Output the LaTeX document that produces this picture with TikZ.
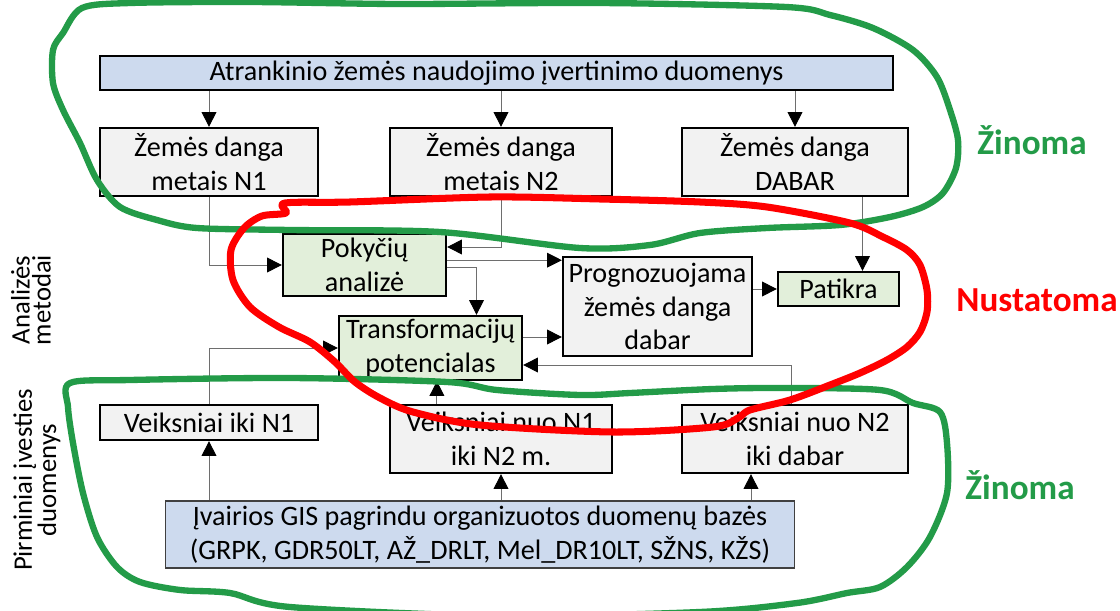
\documentclass[tikz,border=0pt]{standalone}
\usepackage{fontspec}
\setmainfont{Carlito}
\usepackage{tikz}
\usetikzlibrary{arrows.meta, positioning, calc}
\definecolor{fillblue}{RGB}{205,218,238}
\definecolor{fillgray}{RGB}{242,242,242}
\definecolor{fillgreen}{RGB}{226,239,218}
\definecolor{pengreen}{RGB}{35,155,72}
\definecolor{linegray}{RGB}{110,110,110}
\tikzset{
    box_gray/.style={rectangle, draw, line width=1.6pt, fill=fillgray, align=center, inner sep=0pt, font=\fontsize{20}{24}\selectfont},
    box_green/.style={rectangle, draw, line width=1.6pt, fill=fillgreen, align=center, inner sep=0pt, font=\fontsize{20}{24}\selectfont},
    box_blue/.style={rectangle, draw=black!75, line width=0.8pt, fill=fillblue, align=center, inner sep=0pt, font=\fontsize{20}{24}\selectfont},
    arrow/.style={-{Triangle[length=10.5pt, width=10.5pt, color=black]}, draw=linegray, line width=0.7pt},
    ring_green/.style={draw=pengreen, line width=4.5pt, line join=round},
    ring_red/.style={draw=red, line width=5pt, line join=round},
    label_green/.style={text=pengreen, font=\fontsize{25}{30}\selectfont\bfseries},
    label_red/.style={text=red, font=\fontsize{25}{30}\selectfont\bfseries},
    side_text/.style={rotate=90, align=center, font=\fontsize{19}{15}\selectfont}
}
\begin{document}
\begin{tikzpicture}[x=0.025cm, y=-0.025cm]
    \useasboundingbox (0,0) rectangle (1120,611);

    % known inputs (top)
    \node (atr) [box_blue, draw=black, line width=1.6pt, minimum width=19.825cm, minimum height=0.85cm] at (496.5,73) {Atrankinio žemės naudojimo įvertinimo duomenys};
    \node (zd1) [box_gray, minimum width=5.45cm, minimum height=1.7cm] at (209,162) {Žemės danga\\metais N1};
    \node (zd2) [box_gray, minimum width=5.55cm, minimum height=1.7cm] at (501,162) {Žemės danga\\metais N2};
    \node (zd3) [box_gray, minimum width=5.65cm, minimum height=1.7cm] at (795,162) {Žemės danga\\DABAR};

    % methods
    \node (pok) [box_green, minimum width=4.075cm, minimum height=1.55cm] at (364.5,265) {Pokyčių\\analizė};
    \node (trans) [box_green, minimum width=4.575cm, minimum height=1.6cm] at (430.5,348) {Transformacijų\\potencialas};
    \node (prog) [box_gray, minimum width=4.725cm, minimum height=2.475cm] at (657.5,306.5) {Prognozuojama\\žemės danga\\dabar};
    \node (pat) [box_green, minimum width=3.025cm, minimum height=0.85cm] at (838.5,289) {Patikra};

    % known inputs (bottom)
    \node (vk1) [box_gray, minimum width=5.45cm, minimum height=0.875cm] at (209,422.5) {Veiksniai iki N1};
    \node (vk2) [box_gray, minimum width=5.55cm, minimum height=1.7cm] at (501,439) {Veiksniai nuo N1\\iki N2 m.};
    \node (vk3) [box_gray, minimum width=5.65cm, minimum height=1.7cm] at (795,439) {Veiksniai nuo N2\\iki dabar};
    \node (gis) [box_blue, minimum width=15.7cm, minimum height=1.675cm] at (480,534.5) {Įvairios GIS pagrindu organizuotos duomenų bazės\\(GRPK, GDR50LT, AŽ\_DRLT, Mel\_DR10LT, SŽNS, KŽS)};

    \coordinate (pok_in2) at ([yshift=0.45cm]pok.east);
    \coordinate (pok_out1) at ([yshift=0.12cm]pok.east);
    \coordinate (pok_out2) at ([yshift=-0.05cm]pok.east);
    \coordinate (trans_in1) at ([xshift=1.15cm]trans.north);
    \coordinate (trans_out) at ([yshift=0.275cm]trans.east);
    \coordinate (trans_in2) at ([yshift=-0.425cm]trans.east);
    \coordinate (trans_in3) at ([xshift=0.16cm]trans.south);
    \coordinate (vk3_out) at ([xshift=-0.1cm]vk3.north);
    \coordinate (pat_in) at ([xshift=0.6cm]pat.north);
    \coordinate (vk3_in) at ([xshift=-1.1cm]vk3.south);

    \draw [arrow] (atr.south -| zd1.north) -- (zd1.north);
    \draw [arrow] (atr.south -| zd2.north) -- (zd2.north);
    \draw [arrow] (atr.south -| zd3.north) -- (zd3.north);
    \draw [arrow] (zd1.south) |- (pok.west);
    \draw [arrow] (zd2.south) |- (pok_in2);
    \draw [arrow] (pok_out1) -- (pok_out1 -| prog.west);
    \draw [arrow] (pok_out2) -| (trans_in1);
    \draw [arrow] (trans_out) -- (trans_out -| prog.west);
    \draw [arrow] (prog.east |- pat.west) -- (pat.west);
    \draw [arrow] (pat_in |- zd3.south) -- (pat_in);
    \draw [arrow] (vk1.north) |- (trans.west);
    \draw [arrow] (trans_in3 |- vk2.north) -- (trans_in3);
    \draw [arrow] (vk3_out) |- (trans_in2);
    \draw [arrow] (gis.north -| vk1.south) -- (vk1.south);
    \draw [arrow] (gis.north -| vk2.south) -- (vk2.south);
    \draw [arrow] (gis.north -| vk3_in) -- (vk3_in);

    % side captions
    \node (side1) [side_text] at (31,300) {Analizės\\metodai};
    \node (side2) [side_text] at (37,480) {Pirminiai įvesties\\duomenys};

    % hand drawn rings
    \draw [ring_green] plot [smooth cycle] coordinates {(82,8) (130,3) (250,2) (400,4) (600,3) (786,7) (830,15) (873,28) (913,50) (937,77) (950,110) (958,140) (956,168) (943,193) (923,207) (890,217) (840,225) (767,228) (700,233) (650,245) (580,248) (440,232) (290,230) (197,228) (157,220) (120,207) (97,180) (80,143) (63,110) (53,83) (53,50) (63,33)};
    \draw [ring_green] plot [smooth cycle] coordinates {(70,383) (130,380) (290,378) (447,382) (497,390) (580,395) (630,393) (713,389) (780,388) (880,390) (913,403) (940,412) (947,443) (947,493) (930,537) (907,567) (880,587) (847,593) (797,603) (700,612) (500,616) (290,607) (230,593) (180,590) (140,582) (117,567) (97,537) (83,493) (73,443) (68,407)};
    \draw [ring_red] plot [smooth cycle] coordinates {(285,203) (350,202) (490,197) (600,199) (700,202) (767,207) (850,223) (883,237) (907,250) (920,265) (927,290) (927,312) (920,332) (907,347) (887,360) (860,373) (830,385) (790,400) (750,410) (738,418) (713,427) (613,432) (480,425) (413,412) (380,398) (355,382) (335,362) (310,342) (279,327) (250,307) (233,280) (231,250) (244,228) (262,216) (286,213)};

    \node (known1) [label_green] at (1032,140) {Žinoma};
    \node (unknown) [label_red] at (1037,300) {Nustatoma};
    \node (known2) [label_green] at (1020,485) {Žinoma};
\end{tikzpicture}
\end{document}
